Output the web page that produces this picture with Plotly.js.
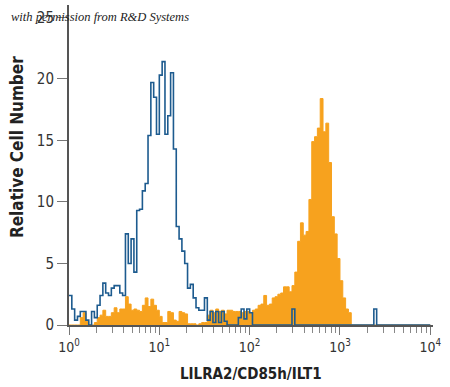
<!DOCTYPE html>
<html>
<head>
<meta charset="utf-8">
<script src="https://cdn.plot.ly/plotly-3.0.1.min.js"></script>
<style>html,body{margin:0;padding:0;background:#fff;}#chart{width:450px;height:387px;}</style>
</head>
<body>
<div id="chart"></div>
<script>
// Flow cytometry histogram channels: 128 channels spanning 4 decades
const channelWidthDecades = 0.03125;

// Isotype control (blue outline), counts per channel
const isotypeCounts = [
  2.4, 1.3, 0.4, 0.7, 1.1, 1.1, 0.4, 0.0, 1.1, 0.6,
  1.6, 2.4, 3.4, 2.6, 2.4, 3.0, 3.2, 3.2, 2.6, 2.4,
  7.4, 5.0, 7.0, 4.3, 9.3, 9.4, 10.9, 11.5, 15.4, 19.7,
  18.5, 15.5, 20.3, 21.4, 15.5, 17.0, 20.5, 14.3, 8.0, 7.0,
  6.0, 5.0, 3.0, 3.3, 2.2, 1.4, 1.2, 1.2, 2.2, 0.4,
  1.1, 0.2, 1.1, 0.2, 1.1, 0.3, 0, 0, 0, 0,
  0.6, 1.3, 0.5, 1.3, 1.0, 0, 0, 0, 0, 0,
  0, 0, 0, 0, 0, 0, 0, 0, 0, 1.3,
  0, 0, 0, 0, 0, 0, 0, 0, 0, 0,
  0, 0, 0, 0, 0, 0, 0, 0, 0, 0,
  0, 0, 0, 0, 0, 0, 0, 0, 1.3, 0,
  0, 0, 0, 0, 0, 0, 0, 0, 0, 0,
  0, 0, 0, 0, 0, 0, 0, 0
];

// LILRA2/CD85h/ILT1 stained cells (orange filled), counts per channel
const stainedCounts = [
  0, 0, 0, 0, 0.6, 1.0, 0.3, 0, 0, 0.2,
  0.6, 0.8, 1.2, 0.7, 0.7, 1.0, 1.4, 1.0, 1.3, 1.3,
  2.3, 1.7, 1.2, 1.3, 1.2, 1.1, 1.6, 2.2, 1.5, 2.1,
  1.6, 1.2, 0.7, 0.2, 0.2, 1.1, 1.0, 0.4, 0.3, 1.1,
  1.0, 0.9, 0.1, 0.1, 0.1, 0, 0.1, 0.2, 0.2, 0.8,
  1.2, 1.0, 1.3, 1.1, 1.2, 0.9, 1.2, 1.2, 1.1, 1.1,
  1.1, 1.0, 1.1, 1.1, 1.0, 1.2, 1.3, 1.6, 1.7, 2.4,
  1.6, 1.7, 2.2, 2.3, 2.5, 2.6, 3.1, 3.1, 2.7, 3.2,
  4.3, 6.8, 8.3, 7.3, 7.6, 10.2, 14.9, 15.3, 16.0, 18.4,
  15.7, 16.4, 13.2, 8.8, 7.4, 5.4, 3.6, 2.2, 1.3, 1.0,
  0, 0, 0, 0, 0, 0, 0, 0, 0, 0,
  0, 0, 0, 0, 0, 0, 0, 0, 0, 0,
  0, 0, 0, 0, 0, 0, 0, 0
];

const yTickVals = [0, 5, 10, 15, 20, 25];
const xTickVals = [1, 10, 100, 1000, 10000];
const xTickText = ['10<sup>0</sup>', '10<sup>1</sup>', '10<sup>2</sup>', '10<sup>3</sup>', '10<sup>4</sup>'];
const xMinorVals = [];
[1, 10, 100, 1000].forEach(d => { for (let k = 2; k <= 9; k++) xMinorVals.push(d * k); });

function stepXY(counts) {
  const xs = [], ys = [];
  for (let i = 0; i < counts.length; i++) {
    xs.push(Math.pow(10, i * channelWidthDecades));
    ys.push(counts[i]);
  }
  xs.push(Math.pow(10, counts.length * channelWidthDecades));
  ys.push(counts[counts.length - 1]);
  return {xs, ys};
}

const st = stepXY(stainedCounts);
const iso = stepXY(isotypeCounts);

const traces = [
  {x: st.xs, y: st.ys, type: 'scatter', mode: 'lines', line: {shape: 'hv', color: '#f7a21e', width: 1}, fill: 'tozeroy', fillcolor: '#f7a21e', hoverinfo: 'skip'},
  {x: iso.xs, y: iso.ys, type: 'scatter', mode: 'lines', line: {shape: 'hv', color: '#1d5b8f', width: 1.6}, hoverinfo: 'skip'}
];

const condFamily = 'DejaVu Sans Condensed, Liberation Sans Narrow, DejaVu Sans, sans-serif';

const layout = {
  width: 450, height: 387,
  margin: {l: 69, r: 17, t: 5, b: 62},
  paper_bgcolor: '#fff', plot_bgcolor: '#fff',
  showlegend: false,
  xaxis: {
    type: 'log', range: [0, 4.03],
    tickmode: 'array', tickvals: xTickVals, ticktext: xTickText,
    ticks: 'outside', ticklen: 8, tickwidth: 1, tickcolor: '#777',
    minor: {tickmode: 'array', tickvals: xMinorVals, ticks: 'outside', ticklen: 6, tickwidth: 1, tickcolor: '#888'},
    showline: true, linecolor: '#555', linewidth: 2,
    showgrid: false, zeroline: false,
    tickfont: {family: condFamily, size: 14, color: '#333', stretch: 'condensed'}
  },
  yaxis: {
    range: [0, 26], tickmode: 'array', tickvals: yTickVals,
    ticks: 'outside', ticklen: 10, tickwidth: 1, tickcolor: '#777',
    showline: true, linecolor: '#555', linewidth: 2,
    showgrid: false, zeroline: false,
    tickfont: {family: condFamily, size: 15, color: '#333', stretch: 'condensed'}
  },
  annotations: [
    {text: 'Relative Cell Number', xref: 'paper', yref: 'paper', x: 0, y: 0.556, xanchor: 'center', yanchor: 'middle', xshift: -52, textangle: -90, showarrow: false,
     font: {family: condFamily, size: 17, color: '#222', weight: 'bold', stretch: 'condensed'}},
    {text: 'LILRA2/CD85h/ILT1', xref: 'paper', yref: 'paper', x: 0.5, y: 0, xanchor: 'center', yanchor: 'middle', yshift: -49, showarrow: false,
     font: {family: condFamily, size: 15, color: '#222', weight: 'bold', stretch: 'condensed'}},
    {text: '<i>with permission from R&amp;D Systems</i>', xref: 'paper', yref: 'paper', x: 0, y: 1, xanchor: 'left', yanchor: 'middle', xshift: -60, yshift: -12, showarrow: false,
     font: {family: 'Liberation Serif, DejaVu Serif, serif', size: 12.5, color: '#222'}}
  ]
};

Plotly.newPlot('chart', traces, layout, {displayModeBar: false, staticPlot: true});
</script>
</body>
</html>
